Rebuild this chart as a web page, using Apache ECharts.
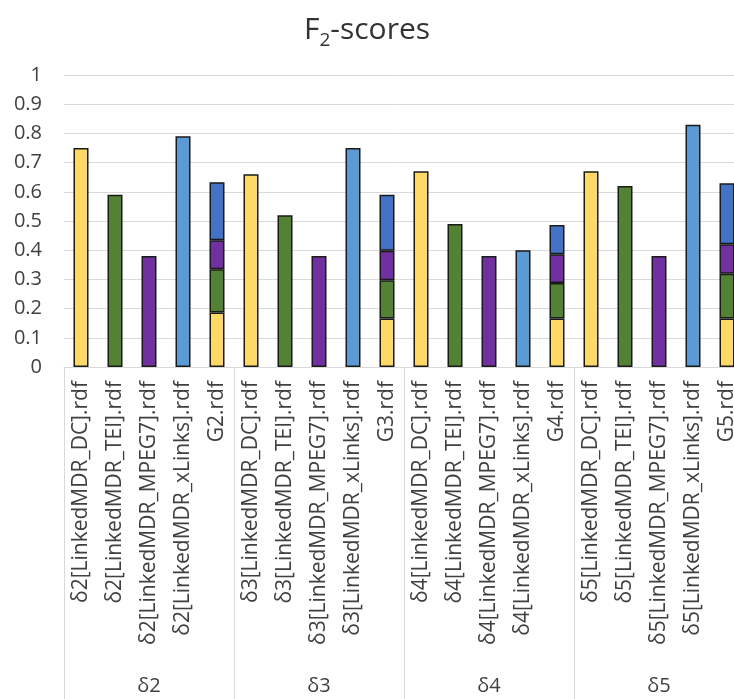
<!DOCTYPE html>
<html>
<head>
<meta charset="utf-8">
<script src="https://cdn.jsdelivr.net/npm/echarts@6/dist/echarts.min.js"></script>
<style>
  html, body { margin: 0; padding: 0; background: #fff; }
  #chart { width: 734px; height: 699px; }
</style>
</head>
<body>
<div id="chart"></div>
<script>
// group labels (second level of the x axis)
const groups = ['δ2', 'δ3', 'δ4', 'δ5'];

// file labels (first level of the x axis)
const fileLabels = [
  'δ2[LinkedMDR_DC].rdf', 'δ2[LinkedMDR_TEI].rdf', 'δ2[LinkedMDR_MPEG7].rdf', 'δ2[LinkedMDR_xLinks].rdf', 'G2.rdf',
  'δ3[LinkedMDR_DC].rdf', 'δ3[LinkedMDR_TEI].rdf', 'δ3[LinkedMDR_MPEG7].rdf', 'δ3[LinkedMDR_xLinks].rdf', 'G3.rdf',
  'δ4[LinkedMDR_DC].rdf', 'δ4[LinkedMDR_TEI].rdf', 'δ4[LinkedMDR_MPEG7].rdf', 'δ4[LinkedMDR_xLinks].rdf', 'G4.rdf',
  'δ5[LinkedMDR_DC].rdf', 'δ5[LinkedMDR_TEI].rdf', 'δ5[LinkedMDR_MPEG7].rdf', 'δ5[LinkedMDR_xLinks].rdf', 'G5.rdf'
];

// single documents, one value per group
const dcScores = [0.75, 0.66, 0.67, 0.67];
const teiScores = [0.59, 0.52, 0.49, 0.62];
const mpeg7Scores = [0.38, 0.38, 0.38, 0.38];
const xlinksScores = [0.79, 0.75, 0.40, 0.83];

// merged G documents, stacked parts per group
const gDcPart = [0.187, 0.166, 0.166, 0.166];
const gTeiPart = [0.148, 0.131, 0.122, 0.153];
const gMpeg7Part = [0.099, 0.101, 0.098, 0.101];
const gXlinksPart = [0.199, 0.192, 0.100, 0.209];

const yTicks = [0, 0.1, 0.2, 0.3, 0.4, 0.5, 0.6, 0.7, 0.8, 0.9, 1];

const colYellow = '#FFD966';
const colGreen = '#548235';
const colPurple = '#7030A0';
const colLightBlue = '#5B9BD5';
const colBlue = '#4472C4';

// build one row of 20 values, slot = position inside the group (0..3), G part at 4
function buildRow(single, gPart, slot, gColor) {
  let row = [];
  groups.forEach((g, i) => {
    for (let k = 0; k < 4; k++) {
      row.push(k === slot ? single[i] : '-');
    }
    row.push(gColor ? { value: gPart[i], itemStyle: { color: gColor } } : gPart[i]);
  });
  return row;
}

const fontName = 'Open Sans';
const chart = echarts.init(document.getElementById('chart'));

const barBase = {
  type: 'bar',
  stack: 'f2',
  barWidth: 15,
  itemStyle: { borderColor: '#1a1a1a', borderWidth: 1.5 }
};

const option = {
  animation: false,
  backgroundColor: '#fff',
  title: {
    text: '{f|F}{s|2}{f|-scores}',
    left: 'center',
    top: 2,
    textStyle: {
      rich: {
        f: { fontFamily: fontName, fontSize: 30, fontWeight: 'normal', color: '#333', lineHeight: 38, verticalAlign: 'bottom' },
        s: { fontFamily: fontName, fontSize: 19, fontWeight: 'normal', color: '#333', lineHeight: 38, verticalAlign: 'bottom', padding: [0, 0, -5, 0] }
      }
    }
  },
  grid: { left: 64, top: 75, width: 680, height: 292, containLabel: false, outerBoundsMode: 'none' },
  xAxis: [
    {
      type: 'category',
      data: fileLabels,
      axisLine: { show: true, lineStyle: { color: '#d9d9d9', width: 1 } },
      axisTick: { show: false },
      axisLabel: {
        interval: 0,
        rotate: 90,
        margin: 14,
        fontFamily: fontName,
        fontSize: 21,
        color: '#404040'
      }
    },
    {
      type: 'category',
      data: groups,
      position: 'bottom',
      axisLine: { show: false },
      axisTick: { show: true, length: 340, lineStyle: { color: '#d9d9d9', width: 1 } },
      axisLabel: {
        interval: 0,
        margin: 309,
        fontFamily: fontName,
        fontSize: 20,
        color: '#404040'
      }
    }
  ],
  yAxis: {
    type: 'value',
    min: 0,
    max: 1,
    interval: 0.1,
    axisLine: { show: false },
    axisTick: { show: false },
    splitLine: { lineStyle: { color: '#d9d9d9', width: 1 } },
    axisLabel: {
      margin: 22,
      fontFamily: fontName,
      fontSize: 20,
      color: '#404040',
      formatter: v => String(yTicks[Math.round(v * 10)])
    }
  },
  series: [
    Object.assign({}, barBase, { name: 'DC', data: buildRow(dcScores, gDcPart, 0), itemStyle: Object.assign({}, barBase.itemStyle, { color: colYellow }) }),
    Object.assign({}, barBase, { name: 'TEI', data: buildRow(teiScores, gTeiPart, 1), itemStyle: Object.assign({}, barBase.itemStyle, { color: colGreen }) }),
    Object.assign({}, barBase, { name: 'MPEG7', data: buildRow(mpeg7Scores, gMpeg7Part, 2), itemStyle: Object.assign({}, barBase.itemStyle, { color: colPurple }) }),
    Object.assign({}, barBase, { name: 'xLinks', data: buildRow(xlinksScores, gXlinksPart, 3, colBlue), itemStyle: Object.assign({}, barBase.itemStyle, { color: colLightBlue }) })
  ]
};

chart.setOption(option);
</script>
</body>
</html>
